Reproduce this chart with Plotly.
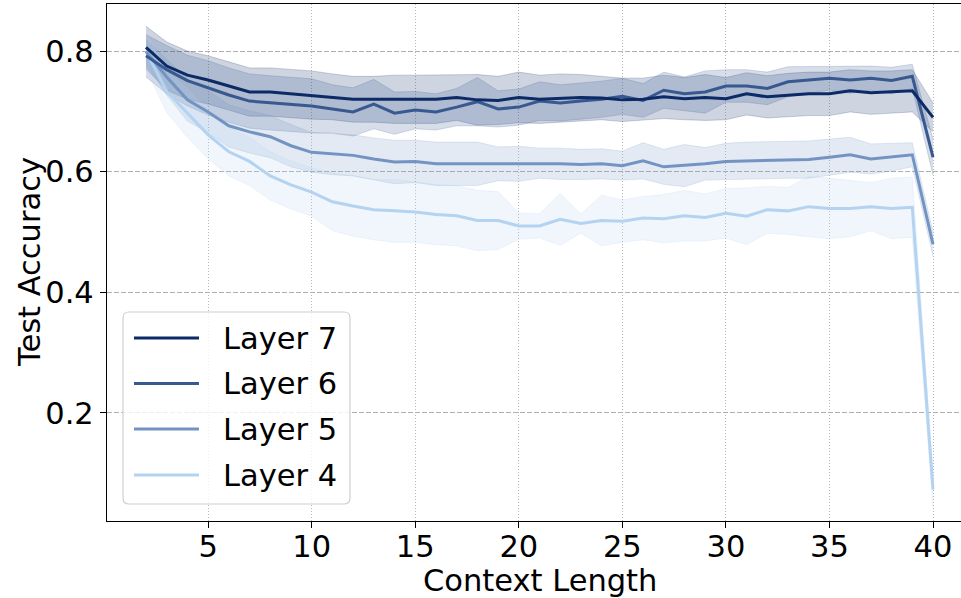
import plotly.graph_objects as go

# ---------------- data ----------------
context_length = list(range(2, 41))

layer7 = [0.806, 0.775, 0.760, 0.752, 0.742, 0.732, 0.732, 0.729, 0.727, 0.724,
          0.720, 0.720, 0.720, 0.720, 0.720, 0.723, 0.719, 0.718, 0.723, 0.720,
          0.722, 0.723, 0.722, 0.719, 0.720, 0.724, 0.721, 0.723, 0.721, 0.729,
          0.724, 0.727, 0.729, 0.729, 0.734, 0.731, 0.732, 0.734, 0.690]
layer7_spread = [0.035, 0.04, 0.04, 0.04, 0.04, 0.04, 0.04, 0.04, 0.04, 0.038,
                 0.038, 0.038, 0.04, 0.04, 0.04, 0.038, 0.042, 0.04, 0.042, 0.04,
                 0.04, 0.038, 0.036, 0.036, 0.035, 0.036, 0.035, 0.038, 0.035, 0.035,
                 0.035, 0.036, 0.036, 0.036, 0.035, 0.036, 0.035, 0.035, 0.024]

layer6 = [0.792, 0.769, 0.751, 0.739, 0.727, 0.717, 0.714, 0.712, 0.709, 0.704,
          0.699, 0.712, 0.697, 0.702, 0.699, 0.707, 0.716, 0.704, 0.707, 0.717,
          0.714, 0.717, 0.720, 0.725, 0.718, 0.735, 0.729, 0.732, 0.742, 0.742,
          0.738, 0.749, 0.752, 0.755, 0.752, 0.755, 0.751, 0.758, 0.624]
layer6_spread = [0.035, 0.04, 0.042, 0.045, 0.045, 0.045, 0.045, 0.045, 0.045, 0.04,
                 0.04, 0.041, 0.035, 0.031, 0.03, 0.031, 0.04, 0.03, 0.03, 0.032,
                 0.03, 0.03, 0.03, 0.03, 0.028, 0.03, 0.028, 0.035, 0.027, 0.027,
                 0.027, 0.025, 0.022, 0.02, 0.022, 0.02, 0.022, 0.02, 0.03]

layer5 = [0.799, 0.757, 0.719, 0.699, 0.676, 0.666, 0.658, 0.643, 0.632, 0.629,
          0.627, 0.621, 0.616, 0.617, 0.613, 0.613, 0.613, 0.613, 0.613, 0.614,
          0.613, 0.612, 0.613, 0.610, 0.618, 0.608, 0.610, 0.613, 0.617, 0.618,
          0.619, 0.620, 0.620, 0.624, 0.628, 0.621, 0.624, 0.628, 0.480]
layer5_spread = [0.02, 0.03, 0.035, 0.035, 0.035, 0.035, 0.035, 0.035, 0.033, 0.034,
                 0.034, 0.035, 0.036, 0.035, 0.036, 0.036, 0.036, 0.028, 0.029, 0.025,
                 0.026, 0.025, 0.025, 0.024, 0.03, 0.029, 0.035, 0.027, 0.03, 0.031,
                 0.031, 0.031, 0.031, 0.03, 0.029, 0.025, 0.023, 0.02, 0.02]

layer4 = [0.800, 0.733, 0.697, 0.661, 0.633, 0.617, 0.593, 0.578, 0.566, 0.550,
          0.543, 0.537, 0.535, 0.533, 0.529, 0.527, 0.519, 0.519, 0.510, 0.510,
          0.521, 0.514, 0.519, 0.518, 0.523, 0.522, 0.527, 0.524, 0.531, 0.526,
          0.537, 0.535, 0.542, 0.539, 0.539, 0.542, 0.539, 0.541, 0.073]
layer4_spread = [0.03, 0.035, 0.04, 0.04, 0.04, 0.04, 0.04, 0.04, 0.04, 0.048,
                 0.05, 0.05, 0.052, 0.05, 0.05, 0.05, 0.05, 0.048, 0.022, 0.02,
                 0.043, 0.016, 0.042, 0.035, 0.036, 0.04, 0.042, 0.039, 0.041, 0.047,
                 0.039, 0.039, 0.05, 0.05, 0.047, 0.04, 0.05, 0.05, 0.03]

series_names = ["Layer 7", "Layer 6", "Layer 5", "Layer 4"]
series_values = [layer7, layer6, layer5, layer4]
series_spreads = [layer7_spread, layer6_spread, layer5_spread, layer4_spread]
series_colors = ["#0b2a66", "#38598f", "#7394c3", "#b4d3f1"]

x_ticks = [5, 10, 15, 20, 25, 30, 35, 40]
y_ticks = [0.2, 0.4, 0.6, 0.8]

FONT = "DejaVu Sans"
FS = 30.5


def rgba(hex_color, a):
    h = hex_color.lstrip("#")
    r, g, b = int(h[0:2], 16), int(h[2:4], 16), int(h[4:6], 16)
    return f"rgba({r},{g},{b},{a})"


fig = go.Figure()

# bands
for name, vals, spr, col in zip(series_names, series_values, series_spreads, series_colors):
    upper = [v + s for v, s in zip(vals, spr)]
    lower = [v - s for v, s in zip(vals, spr)]
    fig.add_trace(go.Scatter(x=context_length, y=upper, mode="lines",
                             line=dict(color=rgba(col, 0.2), width=1),
                             showlegend=False, hoverinfo="skip"))
    fig.add_trace(go.Scatter(x=context_length, y=lower, mode="lines",
                             line=dict(color=rgba(col, 0.2), width=1),
                             fill="tonexty", fillcolor=rgba(col, 0.2),
                             showlegend=False, hoverinfo="skip"))

# lines (Layer 7 drawn last => on top)
for name, vals, col in reversed(list(zip(series_names, series_values, series_colors))):
    fig.add_trace(go.Scatter(x=context_length, y=vals, mode="lines", name=name,
                             line=dict(color=col, width=3), showlegend=False))

# plot-area geometry in pixels
W, H = 961, 598
L, R, T, B = 107, 961, 4, 521


def px(xp):
    return (xp - L) / (R - L)


def py(yp):
    return (B - yp) / (B - T)


# custom legend (matplotlib-like)
bx0, bx1, by0, by1 = px(123), px(350), py(504), py(312)
rx, ry = 6 / (R - L), 6 / (B - T)
path = (f"M {bx0+rx},{by0} L {bx1-rx},{by0} Q {bx1},{by0} {bx1},{by0+ry} "
        f"L {bx1},{by1-ry} Q {bx1},{by1} {bx1-rx},{by1} "
        f"L {bx0+rx},{by1} Q {bx0},{by1} {bx0},{by1-ry} "
        f"L {bx0},{by0+ry} Q {bx0},{by0} {bx0+rx},{by0} Z")
fig.add_shape(type="path", path=path, xref="paper", yref="paper",
              line=dict(color="#d0d0d0", width=1.2), fillcolor="rgba(255,255,255,0.8)",
              layer="above")
legend_rows = [338, 383.5, 429, 475]
for name, col, yr in zip(series_names, series_colors, legend_rows):
    fig.add_shape(type="line", xref="paper", yref="paper",
                  x0=px(134), x1=px(199), y0=py(yr), y1=py(yr),
                  line=dict(color=col, width=3), layer="above")
    fig.add_annotation(text=name, xref="paper", yref="paper", x=px(221), y=py(yr),
                       xanchor="left", yanchor="middle", showarrow=False,
                       font=dict(family=FONT, size=FS, color="black"))

# axis titles
fig.add_annotation(text="Context Length", xref="paper", yref="paper",
                   x=px(539.5), y=py(580), xanchor="center", yanchor="middle",
                   showarrow=False, font=dict(family=FONT, size=FS, color="black"))
fig.add_annotation(text="Test Accuracy", xref="paper", yref="paper",
                   x=px(29), y=py(262), xanchor="center", yanchor="middle",
                   textangle=-90, showarrow=False,
                   font=dict(family=FONT, size=FS, color="black"))

x_range = [2 - (146 - L) / 20.71, 40 + (R - 933) / 20.71]
y_range = [0.8 - (B - 51) / 603.3, 0.8 + (51 - T) / 603.3]

fig.update_layout(
    width=W, height=H,
    margin=dict(l=L, r=W - R, t=T, b=H - B, pad=0),
    plot_bgcolor="white", paper_bgcolor="white",
    font=dict(family=FONT, size=FS, color="black"),
    showlegend=False,
    xaxis=dict(range=x_range, tickvals=x_ticks, ticktext=[str(v) for v in x_ticks],
               automargin=False, ticklabelstandoff=-8,
               showgrid=True, gridcolor="#b8b8b8", griddash="1px,2px", gridwidth=1,
               zeroline=False, showline=True, linecolor="black", linewidth=1.3,
               mirror=True, ticks="outside", ticklen=6, tickwidth=1.3, tickcolor="black",
               tickfont=dict(family=FONT, size=FS, color="black")),
    yaxis=dict(range=y_range, tickvals=y_ticks, ticktext=[f"{v:.1f}" for v in y_ticks],
               automargin=False,
               showgrid=True, gridcolor="#b0b0b0", griddash="5px,2px", gridwidth=1,
               zeroline=False, showline=True, linecolor="black", linewidth=1.3,
               ticks="outside", ticklen=6, tickwidth=1.3, tickcolor="black",
               tickfont=dict(family=FONT, size=FS, color="black")),
)

fig.write_html(
    "out.html",
    config={"displayModeBar": False},
    post_script="document.body.style.margin='0';document.body.style.overflow='hidden';",
)
